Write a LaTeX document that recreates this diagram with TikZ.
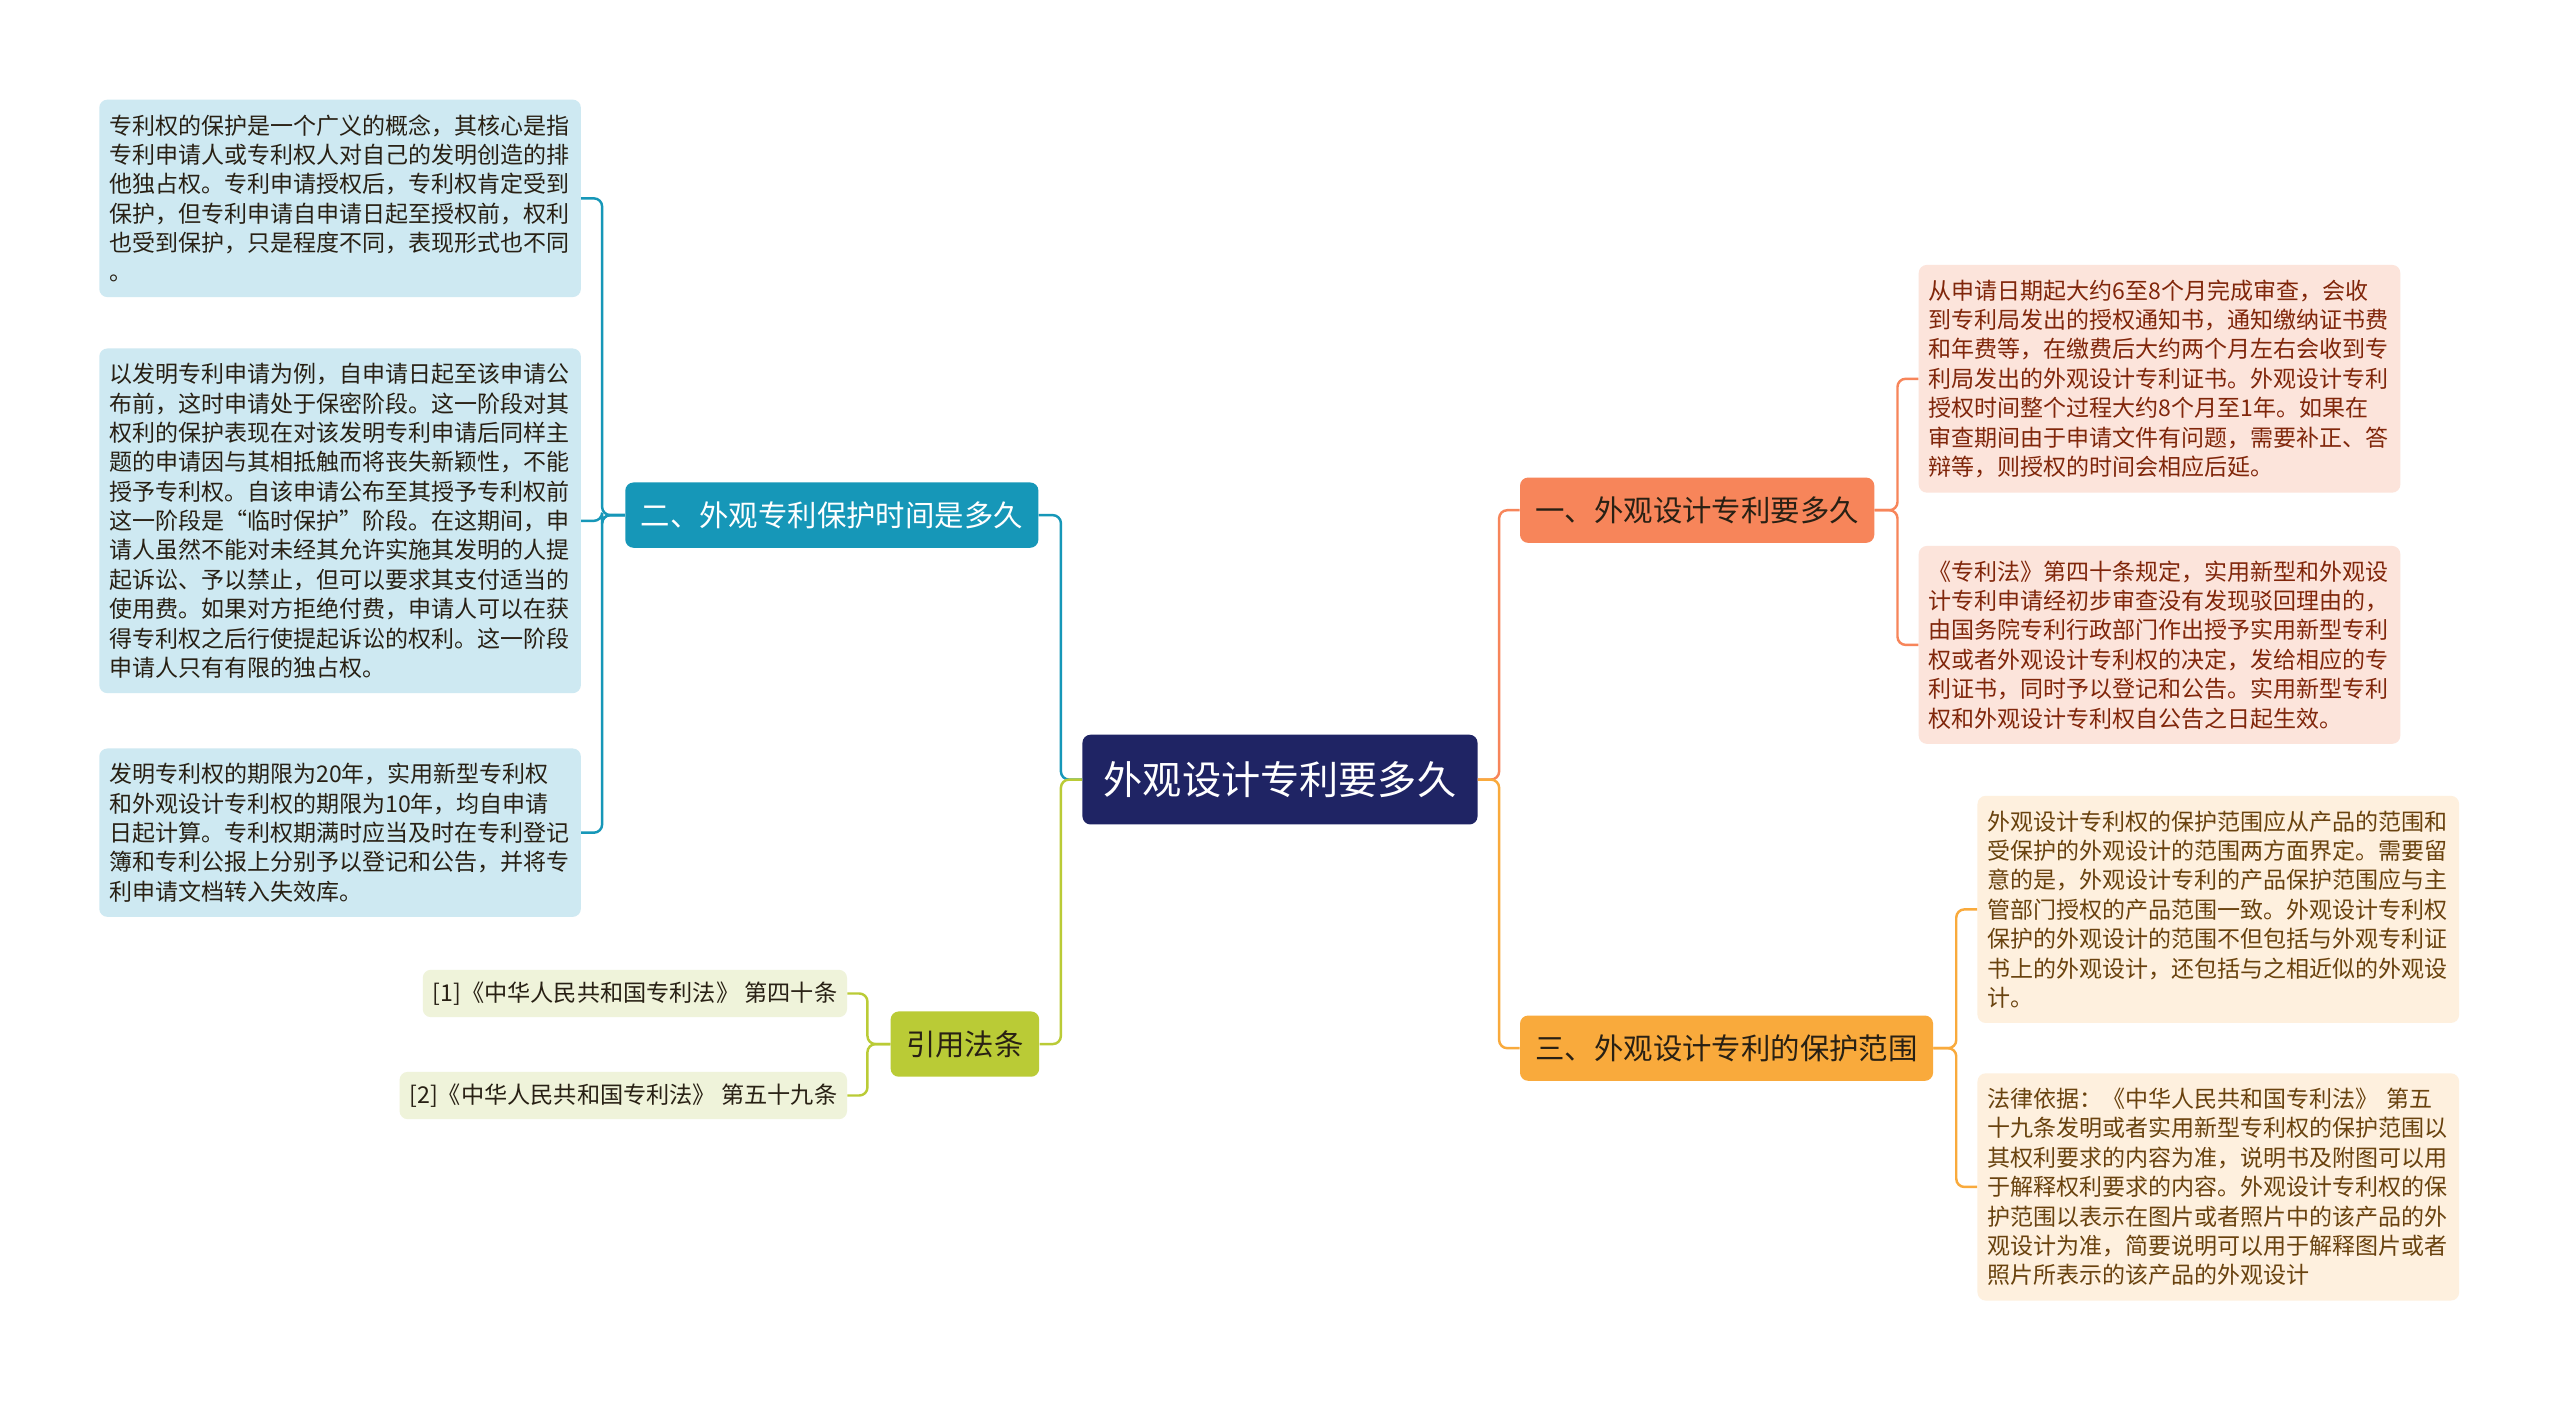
\documentclass[tikz,border=0pt]{standalone}
\usepackage{fontspec}
\newfontfamily\cjkfont{Noto Sans CJK SC}

\definecolor{rootblue}{RGB}{31,36,100}
\definecolor{salmon}{RGB}{247,133,90}
\definecolor{salmonleaf}{RGB}{252,228,219}
\definecolor{salmontext}{RGB}{128,38,10}
\definecolor{amber}{RGB}{249,170,60}
\definecolor{amberleaf}{RGB}{254,240,222}
\definecolor{ambertext}{RGB}{105,66,14}
\definecolor{teal}{RGB}{22,151,184}
\definecolor{tealleaf}{RGB}{206,233,242}
\definecolor{olive}{RGB}{186,203,54}
\definecolor{oliveleaf}{RGB}{239,243,218}
\definecolor{darktext}{RGB}{40,32,20}

\tikzset{
  rootbox/.style={fill=rootblue, text=white, rounded corners=5pt,
    minimum height=55pt, inner xsep=13pt, inner ysep=0pt,
    font=\cjkfont\fontsize{24}{26}\selectfont},
  topic/.style={rounded corners=5pt, minimum height=40pt,
    inner xsep=9.5pt, inner ysep=0pt,
    font=\cjkfont\fontsize{18}{20}\selectfont},
  leafbox/.style={rounded corners=5pt, text width=283pt, align=left,
    inner xsep=6pt, inner ysep=9pt,
    font=\cjkfont\fontsize{14.1}{18}\selectfont},
  refbox/.style={fill=oliveleaf, text=darktext, rounded corners=5pt,
    minimum height=29pt, inner xsep=6pt, inner ysep=0pt,
    font=\cjkfont\fontsize{14.2}{16}\selectfont},
  link/.style={line width=1.5pt, rounded corners=5pt},
}

\begin{document}
\begin{tikzpicture}[x=1pt,y=-1pt]
  \fill[white] (0,0) rectangle (1568,859);

  \node[rootbox] (root) at (784,477.5) {外观设计专利要多久};

  \node[topic, fill=salmon, text=darktext] (b1) at (1039.5,312.5) {一、外观设计专利要多久};
  \node[topic, fill=amber, text=darktext] (b3) at (1057.5,642) {三、外观设计专利的保护范围};
  \node[topic, fill=teal, text=white] (b2) at (509.5,315.5) {二、外观专利保护时间是多久};
  \node[topic, fill=olive, text=darktext] (b4) at (591,639.5) {引用法条};

  \node[leafbox, fill=salmonleaf, text=salmontext, anchor=west] (r1) at (1175,232) {%
    从申请日期起大约6至8个月完成审查，会收\\
    到专利局发出的授权通知书，通知缴纳证书费\\
    和年费等，在缴费后大约两个月左右会收到专\\
    利局发出的外观设计专利证书。外观设计专利\\
    授权时间整个过程大约8个月至1年。如果在\\
    审查期间由于申请文件有问题，需要补正、答\\
    辩等，则授权的时间会相应后延。};
  \node[leafbox, fill=salmonleaf, text=salmontext, anchor=west] (r2) at (1175,395) {%
    《专利法》第四十条规定，实用新型和外观设\\
    计专利申请经初步审查没有发现驳回理由的，\\
    由国务院专利行政部门作出授予实用新型专利\\
    权或者外观设计专利权的决定，发给相应的专\\
    利证书，同时予以登记和公告。实用新型专利\\
    权和外观设计专利权自公告之日起生效。};

  \node[leafbox, fill=amberleaf, text=ambertext, anchor=west] (r3) at (1211,557) {%
    外观设计专利权的保护范围应从产品的范围和\\
    受保护的外观设计的范围两方面界定。需要留\\
    意的是，外观设计专利的产品保护范围应与主\\
    管部门授权的产品范围一致。外观设计专利权\\
    保护的外观设计的范围不但包括与外观专利证\\
    书上的外观设计，还包括与之相近似的外观设\\
    计。};
  \node[leafbox, fill=amberleaf, text=ambertext, anchor=west] (r4) at (1211,727) {%
    法律依据：《中华人民共和国专利法》 第五\\
    十九条发明或者实用新型专利权的保护范围以\\
    其权利要求的内容为准，说明书及附图可以用\\
    于解释权利要求的内容。外观设计专利权的保\\
    护范围以表示在图片或者照片中的该产品的外\\
    观设计为准，简要说明可以用于解释图片或者\\
    照片所表示的该产品的外观设计};

  \node[leafbox, fill=tealleaf, text=darktext, anchor=east] (l1) at (356,121.5) {%
    专利权的保护是一个广义的概念，其核心是指\\
    专利申请人或专利权人对自己的发明创造的排\\
    他独占权。专利申请授权后，专利权肯定受到\\
    保护，但专利申请自申请日起至授权前，权利\\
    也受到保护，只是程度不同，表现形式也不同\\
    。};
  \node[leafbox, fill=tealleaf, text=darktext, anchor=east] (l2) at (356,319) {%
    以发明专利申请为例，自申请日起至该申请公\\
    布前，这时申请处于保密阶段。这一阶段对其\\
    权利的保护表现在对该发明专利申请后同样主\\
    题的申请因与其相抵触而将丧失新颖性，不能\\
    授予专利权。自该申请公布至其授予专利权前\\
    这一阶段是“临时保护”阶段。在这期间，申\\
    请人虽然不能对未经其允许实施其发明的人提\\
    起诉讼、予以禁止，但可以要求其支付适当的\\
    使用费。如果对方拒绝付费，申请人可以在获\\
    得专利权之后行使提起诉讼的权利。这一阶段\\
    申请人只有有限的独占权。};
  \node[leafbox, fill=tealleaf, text=darktext, anchor=east] (l3) at (356,510) {%
    发明专利权的期限为20年，实用新型专利权\\
    和外观设计专利权的期限为10年，均自申请\\
    日起计算。专利权期满时应当及时在专利登记\\
    簿和专利公报上分别予以登记和公告，并将专\\
    利申请文档转入失效库。};

  \node[refbox, anchor=east] (ref1) at (519,608.5) {[1]《中华人民共和国专利法》 第四十条};
  \node[refbox, anchor=east] (ref2) at (519,671) {[2]《中华人民共和国专利法》 第五十九条};

  \draw[link, salmon] (root.east) -- ++(13,0) |- (b1.west);
  \draw[link, teal] (root.west) -- ++(-13,0) |- (b2.east);
  \draw[link, amber] (root.east) -- ++(13,0) |- (b3.west);
  \draw[link, olive] (root.west) -- ++(-13,0) |- (b4.east);

  \draw[link, salmon] (b1.east) -- ++(14,0) |- (r1.west);
  \draw[link, salmon] (b1.east) -- ++(14,0) |- (r2.west);
  \draw[link, amber] (b3.east) -- ++(14,0) |- (r3.west);
  \draw[link, amber] (b3.east) -- ++(14,0) |- (r4.west);
  \draw[link, teal] (b2.west) -- ++(-14,0) |- (l1.east);
  \draw[link, teal] (b2.west) -- ++(-14,0) |- (l2.east);
  \draw[link, teal] (b2.west) -- ++(-14,0) |- (l3.east);
  \draw[link, olive] (b4.west) -- ++(-14,0) |- (ref1.east);
  \draw[link, olive] (b4.west) -- ++(-14,0) |- (ref2.east);
\end{tikzpicture}
\end{document}
